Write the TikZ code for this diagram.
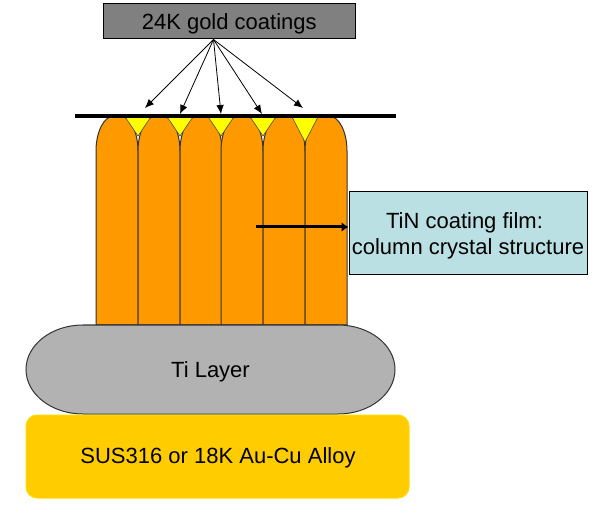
\documentclass[tikz,border=0pt]{standalone}
\usepackage{fontspec}
\setmainfont{Liberation Sans}
\usepackage{xcolor}
\usetikzlibrary{arrows.meta}
\definecolor{columnorange}{HTML}{FF9900}
\definecolor{tipyellow}{HTML}{FFFF00}
\definecolor{goldgray}{HTML}{808080}
\definecolor{filmblue}{HTML}{BBE0E3}
\definecolor{layergray}{HTML}{B2B2B2}
\definecolor{alloygold}{HTML}{FFCC00}
\tikzset{
    labelbox/.style={draw, line width=1pt, inner sep=0pt, align=center, font=\fontsize{22}{26}\selectfont},
    pointer/.style={-{Latex[length=9pt,width=7.5pt]}, line width=0.8pt},
    column/.style={draw=black!80, line width=1pt, fill=columnorange},
    tip/.style={draw=black!70, line width=0.6pt, fill=tipyellow}
}
\begin{document}
\begin{tikzpicture}[x=1pt, y=1pt]

        \useasboundingbox (0,0) rectangle (595,515);

        % columns of the film
        \foreach \colx in {96,138,180,221,263,305}
            \draw[column] (\colx,190) -- (\colx,364) arc[start angle=180, end angle=90, x radius=18, y radius=35]
                -- ++(6,0) arc[start angle=90, end angle=0, x radius=18, y radius=35] -- ++(0,-174) -- cycle;

        % gold in the gaps
        \foreach \tipx/\tipy in {138/379,180/379,221/379,263/379,305/373}
            \draw[tip] (\tipx-13.5,399) -- (\tipx+13.5,399) -- (\tipx,\tipy) -- cycle;

        \coordinate (lineleft) at (75,399);
        \coordinate (lineright) at (396,399);
        \draw[line width=4pt] (lineleft) -- (lineright);

        \draw[draw=black!80, line width=1pt, fill=layergray] (83,190) -- (338,190) arc[start angle=90, end angle=-90, x radius=57, y radius=44.5]
            -- (83,101) arc[start angle=270, end angle=90, x radius=57, y radius=44.5] -- cycle;
        \node[font=\fontsize{22}{26}\selectfont] (tilayer) at (210.5,143) {Ti Layer};

        \draw[draw=alloygold!70!yellow, line width=1pt, fill=alloygold, rounded corners=11pt] (26,17) rectangle (409,100);
        \node[font=\fontsize{22}{26}\selectfont] (alloy) at (218,57) {SUS316 or 18K Au-Cu Alloy};

        \node[labelbox, fill=goldgray, minimum width=251.5pt, minimum height=35pt] (gold) at (229.25,493.5) {\rule{0pt}{20pt}24K gold coatings};

        \node[labelbox, fill=filmblue, minimum width=238pt, minimum height=83pt] (film) at (468,281.5) {\rule{0pt}{20pt}TiN coating film:\hspace*{7pt}\\column crystal structure};

        % arrows
        \coordinate (tipa) at (145,407);
        \coordinate (tipb) at (180,401);
        \coordinate (tipc) at (221,401);
        \coordinate (tipd) at (262,401);
        \coordinate (tipe) at (303,407);
        \foreach \tipname in {tipa,tipb,tipc,tipd,tipe}
            \draw[pointer] (gold.south -| 213.5,0) -- (\tipname);

        \coordinate (filmstart) at (256,288);
        \draw[-{Latex[length=7pt,width=10pt]}, line width=3pt] (filmstart) -- (filmstart -| film.west);

    \end{tikzpicture}
\end{document}
